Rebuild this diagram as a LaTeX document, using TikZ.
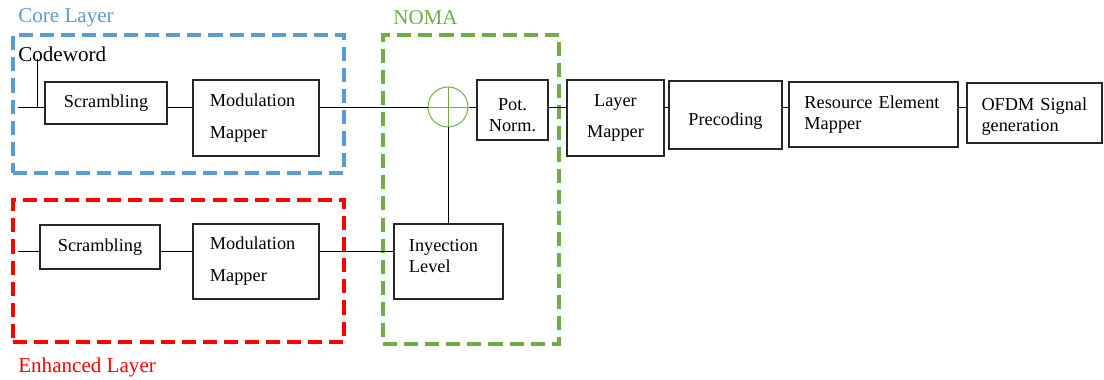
\documentclass[tikz,border=0pt]{standalone}
\usepackage{fontspec}
\setmainfont{Liberation Serif}
\usepackage{xcolor}
\usepackage{tikz}
\usetikzlibrary{positioning, calc, shapes}
\definecolor{coreblue}{HTML}{5B9BD5}
\definecolor{nomagreen}{HTML}{70AD47}
\definecolor{enhred}{HTML}{FF0000}
\tikzset{
    blk/.style={draw=black!85, line width=0.8pt, rectangle, inner sep=2pt,
        font=\fontsize{13}{15}\selectfont},
    layerbox/.style={draw=#1, line width=2.8pt, dash pattern=on 10pt off 5pt,
        rectangle, inner sep=0pt},
    lbl/.style={anchor=west, inner sep=0pt, font=\fontsize{15}{18}\selectfont},
    wire/.style={draw=black, line width=0.7pt}
}

\begin{document}
\begin{tikzpicture}[x=0.025cm, y=-0.025cm]
    \useasboundingbox (0,0) rectangle (1104,380);

    % Cajas de capas
    \node[layerbox=coreblue, minimum width=8.275cm, minimum height=3.45cm] (corebox) at (178.5,104) {};
    \node[layerbox=enhred, minimum width=8.275cm, minimum height=3.55cm] (enhbox) at (178.5,271) {};
    \node[layerbox=nomagreen, minimum width=4.4cm, minimum height=7.725cm] (nomabox) at (471,189.5) {};

    % Etiquetas
    \node[lbl, text=coreblue] (corelbl) at (18,18) {Core Layer};
    \node[lbl, text=nomagreen] (nomalbl) at (393,18) {NOMA};
    \node[lbl, text=enhred] (enhlbl) at (18,367) {Enhanced Layer};
    \node[lbl] (cw) at (18,54) {Codeword};

    % Capa base
    \node[blk, minimum width=3.05cm, minimum height=1.05cm] (cscr) at (106,103) {Scrambling};
    \node[blk, minimum width=3.15cm, minimum height=1.9cm, text width=2.3cm, align=left] (cmod) at (256,118) {Modulation\\[7.7pt]Mapper};

    % Suma NOMA
    \node[circle, draw=nomagreen, line width=0.7pt, minimum size=1cm, inner sep=0pt,
        path picture={\draw[nomagreen, line width=0.6pt] (path picture bounding box.north) -- (path picture bounding box.south)
            (path picture bounding box.west) -- (path picture bounding box.east);}] (sum) at (448,107) {};
    \node[blk, minimum width=1.775cm, minimum height=1.5cm, align=center] (pot) at (512.5,110) {\rule{0pt}{15.7pt}Pot.\\Norm.};
    \node[blk, minimum width=2.725cm, minimum height=1.875cm, text width=1.975cm, align=left] (inj) at (448.5,261.5) {Inyection\\Level\\[-6.5pt]\mbox{}};

    % Cadena de transmision
    \node[blk, minimum width=2.425cm, minimum height=1.9cm, align=center] (lmap) at (615.5,118) {Layer\\[7.7pt]Mapper};
    \node[blk, minimum width=2.825cm, minimum height=1.7cm] (prec) at (725.5,115) {\rule{0pt}{17.9pt}Precoding};
    \node[blk, minimum width=4.225cm, minimum height=1.625cm, text width=3.45cm, align=left] (rem) at (873.5,114.5) {Resource Element\\Mapper};
    \node[blk, minimum width=3.375cm, minimum height=1.5cm, text width=2.65cm, align=left] (ofdm) at (1034.5,113) {\rule{0pt}{14.5pt}OFDM Signal\\generation};

    % Capa mejorada
    \node[blk, minimum width=3.0cm, minimum height=1.1cm] (escr) at (100,247) {Scrambling};
    \node[blk, minimum width=3.15cm, minimum height=1.875cm, text width=2.3cm, align=left] (emod) at (256,261.5) {Modulation\\[7.7pt]Mapper};

    % Conexiones
    \coordinate (cin) at (18,107);
    \coordinate (tap) at (37,107);
    \coordinate (ein) at (18,251);
    \draw[wire] (cin) -- (cscr.west |- sum);
    \draw[wire] (tap |- cw.south) ++(0,-3) -- (tap);
    \draw[wire] (cscr.east |- sum) -- (cmod.west |- sum);
    \draw[wire] (cmod.east |- sum) -- (sum.west);
    \draw[wire] (sum.east) -- (pot.west |- sum);
    \draw[wire] (pot.east |- sum) -- (lmap.west |- sum);
    \draw[wire] (lmap.east |- sum) -- (prec.west |- sum);
    \draw[wire] (prec.east |- sum) -- (rem.west |- sum);
    \draw[wire] (rem.east |- sum) -- (ofdm.west |- sum);
    \draw[wire] (sum.south) -- (sum.south |- inj.north);
    \draw[wire] (ein) -- (escr.west |- ein);
    \draw[wire] (escr.east |- ein) -- (emod.west |- ein);
    \draw[wire] (emod.east |- ein) -- (inj.west |- ein);
\end{tikzpicture}
\end{document}
